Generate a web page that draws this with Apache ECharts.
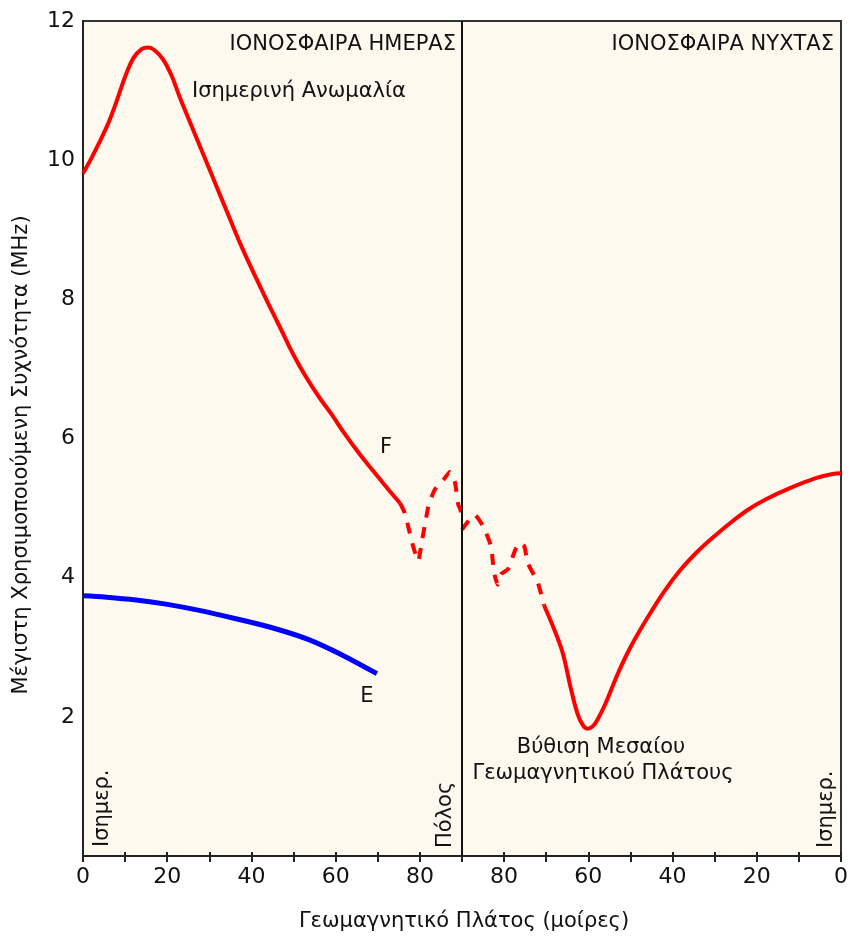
<!DOCTYPE html>
<html>
<head>
<meta charset="utf-8">
<script src="https://cdn.jsdelivr.net/npm/echarts@6/dist/echarts.min.js"></script>
<style>
html,body{margin:0;padding:0;background:#fff;}
#c{width:851px;height:940px;}
</style>
</head>
<body>
<div id="c"></div>
<script>
// ---- Data (geomagnetic latitude in degrees, MUF in MHz) ----
// Day-side F layer (solid part)
const fDayLat = [0, 2, 4, 6, 8, 10, 12, 14, 15.5, 17, 19, 21, 23, 26, 29, 32, 35, 38, 41, 44, 47, 50, 53, 56, 59, 62, 65, 68, 71, 73, 75.3];
const fDayVal = [9.81, 10.03, 10.27, 10.53, 10.85, 11.2, 11.47, 11.6, 11.62, 11.58, 11.45, 11.22, 10.9, 10.46, 10.02, 9.58, 9.14, 8.71, 8.32, 7.94, 7.57, 7.2, 6.88, 6.6, 6.35, 6.08, 5.83, 5.6, 5.38, 5.23, 5.07];
// Day-side F layer near the pole (dashed part)
const fDayPolarLat = [75.3, 76.4, 77.6, 78.4, 79.6, 80.4, 81.2, 82, 83.5, 85.9, 87.1, 88.3, 89.1, 89.5, 90];
const fDayPolarVal = [5.07, 4.93, 4.64, 4.45, 4.24, 4.5, 4.76, 5.02, 5.26, 5.43, 5.52, 5.38, 5.05, 5.0, 4.9];
// Night-side F layer near the pole (dashed part)
const fNightPolarLat = [90, 87, 85, 83.1, 82.7, 82.3, 81.5, 80.7, 79.1, 77.6, 76.4, 75.2, 74.4, 72, 70.5];
const fNightPolarVal = [4.69, 4.9, 4.74, 4.45, 4.24, 4.05, 3.9, 4.05, 4.12, 4.36, 4.5, 4.45, 4.21, 3.93, 3.6];
// Night-side F layer (solid part, mid-latitude trough)
const fNightLat = [70.5, 68, 66, 64.2, 62.6, 61.3, 60.2, 59, 57.9, 56, 53, 50, 46, 42, 38, 34, 30, 26, 22, 17.7, 12, 6, 2, 0];
const fNightVal = [3.6, 3.24, 2.9, 2.42, 2.05, 1.88, 1.83, 1.86, 1.95, 2.18, 2.62, 3.0, 3.42, 3.8, 4.12, 4.38, 4.6, 4.8, 4.98, 5.13, 5.29, 5.43, 5.49, 5.5];
// Day-side E layer
const eDayLat = [0, 5.6, 12.6, 19.7, 27.6, 36.3, 44.9, 53.6, 61.5, 69.8];
const eDayVal = [3.74, 3.72, 3.68, 3.62, 3.53, 3.41, 3.28, 3.11, 2.89, 2.62];

// Tick labels
const xTickPos = [0, 20, 40, 60, 80, 100, 120, 140, 160, 180];
const xTickLabels = ['0', '20', '40', '60', '80', '80', '60', '40', '20', '0'];
const yTickPos = [2, 4, 6, 8, 10, 12];
const yTickLabels = ['2', '4', '6', '8', '10', '12'];

// Axis position: day side uses latitude directly, night side is mirrored (180 - lat)
const dayPts = (lat, val) => lat.map((l, i) => [l, val[i]]);
const nightPts = (lat, val) => lat.map((l, i) => [180 - l, val[i]]);

const FONT = '"DejaVu Sans", Verdana, sans-serif';
const TXT = '#111';

const chart = echarts.init(document.getElementById('c'), null, {renderer: 'canvas'});

function txt(text, x, y, align, vAlign, rot, size) {
  return {
    type: 'text', x: x, y: y, rotation: rot || 0, z: 100,
    style: {
      text: text, fill: TXT, font: (size || 21) + 'px ' + FONT,
      align: align, verticalAlign: vAlign,
      textAlign: align, textVerticalAlign: vAlign
    }
  };
}

const redSolid = {color: '#ff0000', width: 4};
const redDash = {color: '#ff0000', width: 4, type: [11, 10]};

const option = {
  animation: false,
  backgroundColor: '#ffffff',
  grid: {
    left: 83, right: 6, top: 21, bottom: 84,
    show: true, backgroundColor: '#fef9ef', borderColor: '#333', borderWidth: 2
  },
  xAxis: [{
    type: 'value', min: 0, max: 180, interval: 10,
    axisLine: {show: true, lineStyle: {color: '#222', width: 2}},
    axisTick: {show: true, length: 6, lineStyle: {color: '#222', width: 2}},
    splitLine: {show: false},
    axisLabel: {
      margin: 10, color: TXT, fontSize: 22, fontFamily: FONT,
      showMinLabel: true, showMaxLabel: true,
      formatter: function (v) {
        const i = xTickPos.indexOf(Math.round(v));
        return i >= 0 ? xTickLabels[i] : '';
      }
    }
  }, {
    type: 'value', min: 0, max: 180, interval: 10, position: 'bottom',
    axisLine: {show: false},
    axisTick: {show: true, inside: true, length: 4, lineStyle: {color: '#222', width: 2}},
    axisLabel: {show: false},
    splitLine: {show: false}
  }],
  yAxis: {
    type: 'value', min: 0, max: 12, interval: 2,
    axisLine: {show: true, lineStyle: {color: '#222', width: 2}},
    axisTick: {show: false},
    splitLine: {show: false},
    axisLabel: {
      margin: 8, color: TXT, fontSize: 22, fontFamily: FONT,
      formatter: function (v) {
        const i = yTickPos.indexOf(Math.round(v));
        return i >= 0 ? yTickLabels[i] : '';
      }
    }
  },
  series: [
    {
      name: 'F day', type: 'line', smooth: 0.35, showSymbol: false,
      data: dayPts(fDayLat, fDayVal), lineStyle: redSolid, z: 3,
      markLine: {
        silent: true, symbol: ['none', 'none'], label: {show: false},
        lineStyle: {color: '#111', width: 2, type: 'solid'},
        data: [{xAxis: 90}]
      }
    },
    {
      name: 'F day polar', type: 'line', smooth: 0.2, showSymbol: false,
      data: dayPts(fDayPolarLat, fDayPolarVal), lineStyle: redDash, z: 3
    },
    {
      name: 'F night polar', type: 'line', smooth: 0.2, showSymbol: false,
      data: nightPts(fNightPolarLat, fNightPolarVal), lineStyle: redDash, z: 3
    },
    {
      name: 'F night', type: 'line', smooth: 0.35, showSymbol: false,
      data: nightPts(fNightLat, fNightVal), lineStyle: redSolid, z: 3
    },
    {
      name: 'E day', type: 'line', smooth: 0.35, showSymbol: false,
      data: dayPts(eDayLat, eDayVal), lineStyle: {color: '#0000ff', width: 5}, z: 3
    }
  ],
  graphic: [
    txt('ΙΟΝΟΣΦΑΙΡΑ ΗΜΕΡΑΣ', 456, 45, 'right', 'middle'),
    txt('ΙΟΝΟΣΦΑΙΡΑ ΝΥΧΤΑΣ', 834, 45, 'right', 'middle'),
    txt('Ισημερινή Ανωμαλία', 192, 92, 'left', 'middle'),
    txt('F', 386, 448, 'center', 'middle'),
    txt('E', 367, 697, 'center', 'middle'),
    txt('Βύθιση Μεσαίου', 601, 748, 'center', 'middle'),
    txt('Γεωμαγνητικού Πλάτους', 603, 774, 'center', 'middle'),
    txt('Ισημερ.', 103, 847, 'left', 'middle', Math.PI / 2),
    txt('Πόλος', 446, 848, 'left', 'middle', Math.PI / 2),
    txt('Ισημερ.', 827, 848, 'left', 'middle', Math.PI / 2),
    txt('Γεωμαγνητικό Πλάτος (μοίρες)', 464, 922, 'center', 'middle'),
    txt('Μέγιστη Χρησιμοποιούμενη Συχνότητα (MHz)', 22, 455, 'center', 'middle', Math.PI / 2)
  ]
};
chart.setOption(option);
</script>
</body>
</html>
